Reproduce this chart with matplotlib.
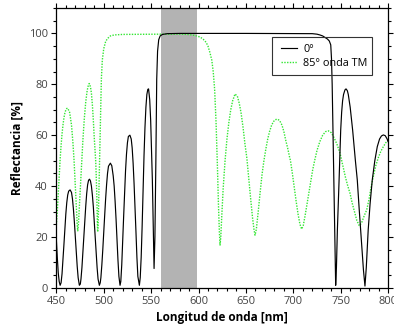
import matplotlib
matplotlib.use("Agg")
import matplotlib.pyplot as plt
from matplotlib.patches import Rectangle
from matplotlib.ticker import MultipleLocator

plt.rcParams["font.family"] = ["Open Sans", "DejaVu Sans"]

# espectro a 0 grados
wl_0 = [450, 451, 452, 453, 454, 455, 456, 457, 458, 459, 460, 461, 462, 463, 464.5,
        466, 467, 468, 469, 470, 471, 472, 473, 474.3, 475.3, 476, 477, 478, 479, 480,
        481, 482, 483, 484, 485, 486, 487, 488, 489, 490, 491, 492, 493, 494, 495.4,
        496.3, 497, 498, 499, 500, 501, 502, 503, 504, 505, 507, 508.5, 510, 511, 512,
        513, 514, 515, 516, 517.2, 518, 519, 520, 521, 522, 523, 524, 525, 526, 527.6,
        529, 530, 531, 532, 533, 534, 535, 536, 537.6, 538.5, 539.5, 540.5, 541.5,
        542.5, 543.5, 544.5, 545.5, 546.5, 547.3, 548.5, 549.5, 550.5, 551.3, 552.2,
        553.1, 554, 555, 555.9, 556.8, 558, 559.5, 562, 567, 580, 650, 720, 725, 728,
        731, 733, 736, 738, 739.5, 740.3, 741, 742, 743, 744, 744.7, 745.5, 746.5,
        747.5, 748.3, 749, 750, 751, 752, 753, 754.5, 755.6, 757, 758, 760, 761.5,
        762.6, 764, 765.5, 767.5, 769.5, 771.1, 772.5, 774, 775.6, 777, 779, 781,
        783.3, 786, 788.6, 791, 793, 795, 797, 799, 800]
r_0 = [19, 12, 6, 2.5, 1, 2, 5.5, 11, 17, 23, 29, 33.5, 36.5, 38, 38.5,
       37.5, 35, 31, 26, 20, 14, 8.5, 4, 1, 1.5, 3.5, 8, 14, 20, 26,
       32, 37, 40.5, 42.3, 42.7, 42, 40, 36.5, 32, 26, 20, 14, 8, 3.5, 1,
       2, 4, 9, 15, 22, 28.5, 35, 40.5, 45, 47.8, 49, 48, 44, 40, 34,
       27, 19, 11, 4.5, 1, 2.5, 9, 18, 28, 37.5, 46, 52.5, 57, 59.5, 60,
       58.5, 55, 49, 41, 32, 22, 12, 4.5, 1, 4, 12, 24, 38,
       52, 63, 71, 76, 78, 78.2, 74, 66, 53, 42.4, 26,
       7.6, 20, 50, 82, 93, 97.5, 99, 99.6, 99.9, 100, 100, 99.9, 99.7, 99.4,
       99, 98.5, 97.8, 97, 95.5, 90, 80, 58, 37, 16, 1, 8, 22.7,
       33, 42.4, 50, 62, 69, 73.5, 76, 77.8, 78.2, 77.5, 76, 71, 66,
       62, 56, 50, 42.4, 31, 22.7, 15, 7, 0.7, 8, 22.7, 33,
       42.4, 50, 55.5, 58.5, 59.7, 60.1, 59.8, 58.5, 57.5]

# espectro a 85 grados, onda TM
wl_85 = [450, 451, 452, 453, 454, 455, 456, 457, 458, 459, 460, 461, 462, 464, 466,
         467.5, 468.7, 470, 471, 472, 472.6, 473.3, 474.3, 475.5, 476.8, 478, 479.5,
         481, 482.5, 484, 484.8, 486, 487, 488, 489, 490, 491, 491.5, 492, 492.7,
         493.2, 493.6, 494, 494.5, 495.3, 496, 496.7, 497.5, 498.5, 500, 502, 504,
         507, 511, 520, 560, 580, 588, 593, 597, 599, 602, 605, 608, 610, 612, 614,
         615.5, 617, 618.5, 620, 621, 622, 622.7, 623.5, 624.5, 626, 628, 630, 632,
         634, 636, 638.5, 641, 643, 645, 647, 649, 651, 653, 655, 657, 658.5, 659.6,
         661, 663, 665, 667, 669, 671, 673, 675, 677, 679, 681, 683.2, 685.5, 688,
         690, 692, 694, 696, 697, 699, 701, 703, 705, 707, 708.8, 710.5, 712.5,
         714.5, 716.5, 718.5, 720.5, 722.5, 725, 728, 731, 734, 737, 740, 743, 746,
         749.3, 752, 755, 757.5, 759.8, 762, 765, 767, 769.6, 772, 775, 777.4, 780,
         782, 784.4, 787, 790, 792.5, 795, 797.5, 800]
r_85 = [24.7, 30, 37, 44, 50.5, 56, 60.5, 64, 66.8, 68.7, 69.9, 70.5, 70.6, 69, 64,
        57, 50, 40, 32, 25, 22.4, 25, 32, 41, 50, 58, 66.5,
        73, 77.5, 80, 80.3, 79, 76.5, 72, 66, 59, 53, 50, 45, 36,
        27, 22, 24, 31, 45, 58, 71, 82, 89.5, 94, 96.8, 98,
        99, 99.4, 99.6, 99.7, 99.7, 99.6, 99.4, 99.1, 98.9, 98.5, 97.7, 96.5, 95, 92.5, 89.5,
        85, 78, 65, 47, 33, 22, 16.8, 20, 28, 39, 50, 58.5, 65,
        70, 73.5, 76.2, 75.3, 72.5, 68.5, 63, 56.5, 51, 43, 35, 27.5, 23, 20.7,
        23, 30, 37.5, 44.5, 50, 54.5, 58.5, 61.5, 63.8, 65.3, 66.1, 66.3, 65.8, 64,
        61.5, 58, 55, 51.5, 50, 45, 39.5, 34, 29, 25, 23.1, 24.5, 28.5,
        33, 37.5, 42, 46.5, 50, 54, 57.5, 60, 61.4, 61.7, 61, 59, 56.5,
        52.9, 48.5, 43.5, 40, 37.2, 33.5, 29.3, 26.5, 24.4, 25.5, 28.5, 30.6, 35,
        39.5, 43.7, 48, 51.5, 53.8, 55.5, 57, 58]

banda = (560, 598)

fig = plt.figure(figsize=(3.94, 3.32), dpi=100)
ax = fig.add_axes([0.143, 0.133, 0.842, 0.843])

ax.axvspan(banda[0], banda[1], color="#b3b3b3", lw=0, zorder=1)
ax.plot(wl_0, r_0, color="black", lw=0.85, label="0°", zorder=3)
ax.plot(wl_85, r_85, color="#33e633", lw=1.0, ls=(0, (1, 1)), label="85° onda TM", zorder=2)

ax.set_xlim(450, 800)
ax.set_ylim(0, 110)
ax.xaxis.set_major_locator(MultipleLocator(50))
ax.xaxis.set_minor_locator(MultipleLocator(10))
ax.set_yticks([0, 20, 40, 60, 80, 100])
ax.yaxis.set_minor_locator(MultipleLocator(5))

ax.tick_params(which="both", direction="out", top=True, right=True,
               labelsize=8, labelcolor="#444444", width=0.8)
ax.tick_params(which="major", length=3.5, pad=2.5)
ax.tick_params(which="minor", length=2.5)
for s in ax.spines.values():
    s.set_linewidth(0.9)

ax.set_xlabel("Longitud de onda [nm]", fontsize=8.5, fontweight="bold", labelpad=3)
ax.set_ylabel("Reflectancia [%]", fontsize=8.5, fontweight="bold", labelpad=4)

# leyenda sin marco y un rectangulo propio como en Origin
leg = ax.legend(loc="center left", bbox_to_anchor=(0.677, 0.826), borderaxespad=0,
                fontsize=7.8, frameon=False, handlelength=1.5, handletextpad=0.55,
                borderpad=0, labelspacing=0.3)
ax.add_patch(Rectangle((0.651, 0.760), 0.302, 0.135, transform=ax.transAxes,
                       fill=False, edgecolor="#333333", lw=0.8, zorder=4))

fig.savefig("out.png", dpi=100)
